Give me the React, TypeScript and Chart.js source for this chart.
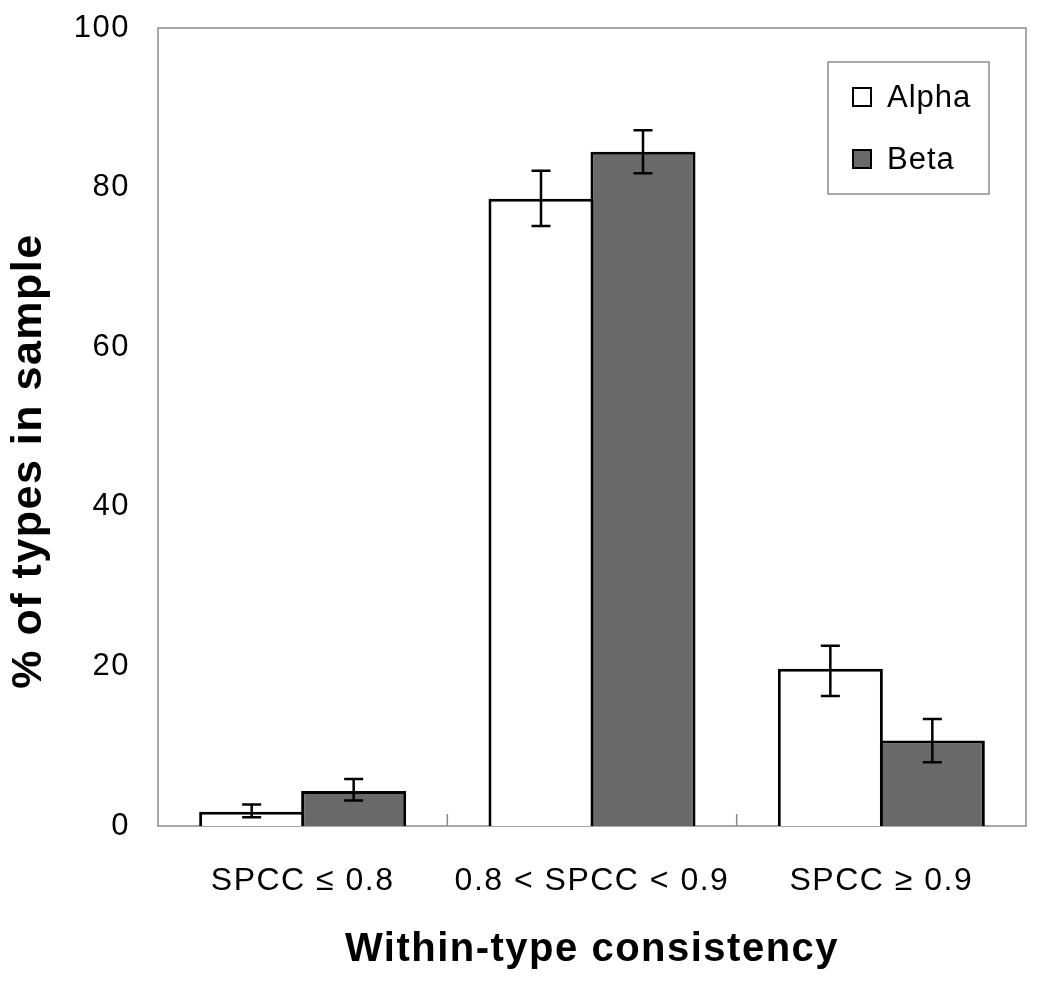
import React, { useEffect, useRef } from "react";
import { Chart, registerables } from "chart.js";
Chart.register(...registerables);

const categories = ["SPCC ≤ 0.8", "0.8 < SPCC < 0.9", "SPCC ≥ 0.9"];
const seriesLabels = ["Alpha", "Beta"];
const alphaValues = [1.8, 78.6, 19.7];
const alphaErrLow = [1.1, 75.2, 16.3];
const alphaErrHigh = [2.7, 82.1, 22.6];
const betaValues = [4.4, 84.5, 10.7];
const betaErrLow = [3.2, 81.8, 8.0];
const betaErrHigh = [5.9, 87.2, 13.4];
const yTickValues = [0, 20, 40, 60, 80, 100];
const xTitle = "Within-type consistency";
const yTitle = "% of types in sample";

const FONT = "'Liberation Sans', Arial, Helvetica, sans-serif";
const errLows = [alphaErrLow, betaErrLow];
const errHighs = [alphaErrHigh, betaErrHigh];
const fills = ["#ffffff", "#696969"];

const spacingPlugin = {
  id: "spacing",
  beforeDraw(chart: any) {
    chart.ctx.letterSpacing = "1.5px";
  },
  afterDraw(chart: any) {
    chart.ctx.letterSpacing = "0px";
  },
};

const framePlugin = {
  id: "frame",
  beforeDatasetsDraw(chart: any) {
    const { ctx, chartArea: a } = chart;
    ctx.save();
    ctx.strokeStyle = "#8a8a8a";
    ctx.lineWidth = 1.5;
    ctx.strokeRect(a.left, a.top, a.right - a.left, a.bottom - a.top);
    const n = categories.length;
    const w = (a.right - a.left) / n;
    ctx.beginPath();
    for (let i = 1; i < n; i++) {
      const x = a.left + w * i;
      ctx.moveTo(x, a.bottom);
      ctx.lineTo(x, a.bottom - 12);
    }
    ctx.stroke();
    ctx.restore();
  },
};

const errorBarPlugin = {
  id: "errorBars",
  afterDatasetsDraw(chart: any) {
    const { ctx } = chart;
    const ys = chart.scales.y;
    ctx.save();
    ctx.strokeStyle = "#000";
    ctx.lineWidth = 2.5;
    chart.data.datasets.forEach((ds: any, di: number) => {
      const meta = chart.getDatasetMeta(di);
      meta.data.forEach((bar: any, i: number) => {
        const x = bar.x;
        const yLo = ys.getPixelForValue(errLows[di][i]);
        const yHi = ys.getPixelForValue(errHighs[di][i]);
        const c = 9.5;
        ctx.beginPath();
        ctx.moveTo(x, yLo);
        ctx.lineTo(x, yHi);
        ctx.moveTo(x - c, yLo);
        ctx.lineTo(x + c, yLo);
        ctx.moveTo(x - c, yHi);
        ctx.lineTo(x + c, yHi);
        ctx.stroke();
      });
    });
    ctx.restore();
  },
};

const titlesPlugin = {
  id: "yTitle",
  afterDraw(chart: any) {
    const { ctx } = chart;
    ctx.save();
    ctx.letterSpacing = "1.5px";
    ctx.translate(29, 461);
    ctx.rotate(-Math.PI / 2);
    ctx.fillStyle = "#000";
    ctx.font = `bold 43px ${FONT}`;
    ctx.textAlign = "center";
    ctx.textBaseline = "middle";
    ctx.fillText(yTitle, 0, 0);
    ctx.restore();
  },
};

const legendPlugin = {
  id: "boxLegend",
  afterDraw(chart: any) {
    const { ctx } = chart;
    const x0 = 828, y0 = 62, w = 161, h = 132;
    ctx.save();
    ctx.letterSpacing = "1px";
    ctx.fillStyle = "#fff";
    ctx.fillRect(x0, y0, w, h);
    ctx.strokeStyle = "#8a8a8a";
    ctx.lineWidth = 1.5;
    ctx.strokeRect(x0, y0, w, h);
    chart.data.datasets.forEach((ds: any, i: number) => {
      const cy = 97 + i * 62;
      ctx.fillStyle = ds.backgroundColor;
      ctx.fillRect(853, cy - 9, 18, 18);
      ctx.strokeStyle = "#000";
      ctx.lineWidth = 2;
      ctx.strokeRect(853, cy - 9, 18, 18);
      ctx.fillStyle = "#000";
      ctx.font = `31px ${FONT}`;
      ctx.textAlign = "left";
      ctx.textBaseline = "middle";
      ctx.fillText(ds.label, 887, cy + 1);
    });
    ctx.restore();
  },
};

export default function App() {
  const ref = useRef<HTMLCanvasElement>(null);
  useEffect(() => {
    if (!ref.current) return;
    const chart = new Chart(ref.current, {
      type: "bar",
      data: {
        labels: categories,
        datasets: seriesLabels.map((label, i) => ({
          label,
          data: i === 0 ? alphaValues : betaValues,
          backgroundColor: fills[i],
          borderColor: "#000",
          borderWidth: 3,
          categoryPercentage: 0.705,
          barPercentage: 1.03,
        })),
      },
      options: {
        responsive: false,
        animation: false,
        devicePixelRatio: 1,
        layout: { padding: { top: 28, right: 24, left: 0, bottom: 0 } },
        plugins: { legend: { display: false }, tooltip: { enabled: false } },
        scales: {
          x: {
            grid: { display: false, drawTicks: false },
            border: { display: false },
            ticks: { color: "#000", font: { family: FONT, size: 32 }, padding: 36, maxRotation: 0 },
            title: {
              display: true,
              text: xTitle,
              color: "#000",
              font: { family: FONT, size: 40, weight: "bold" },
              padding: { top: 0, bottom: 24 },
            },
            afterFit(scale: any) {
              scale.height = 172;
              scale.paddingLeft = 0;
              scale.paddingRight = 0;
            },
          },
          y: {
            min: 0,
            max: 100,
            afterBuildTicks(scale: any) {
              scale.ticks = yTickValues.map((v) => ({ value: v }));
            },
            grid: { display: false, drawTicks: false },
            border: { display: false },
            ticks: { color: "#000", font: { family: FONT, size: 31 }, padding: 28 },
            title: { display: false, text: yTitle },
            afterFit(scale: any) {
              scale.width = 158;
              scale.paddingTop = 0;
              scale.paddingBottom = 0;
            },
          },
        },
      },
      plugins: [spacingPlugin, framePlugin, errorBarPlugin, titlesPlugin, legendPlugin],
    });
    return () => chart.destroy();
  }, []);
  return (
    <div style={{ position: "fixed", left: 0, top: 0, width: 1050, height: 998, background: "#fff" }}>
      <canvas ref={ref} width={1050} height={998} style={{ display: "block" }} />
    </div>
  );
}
